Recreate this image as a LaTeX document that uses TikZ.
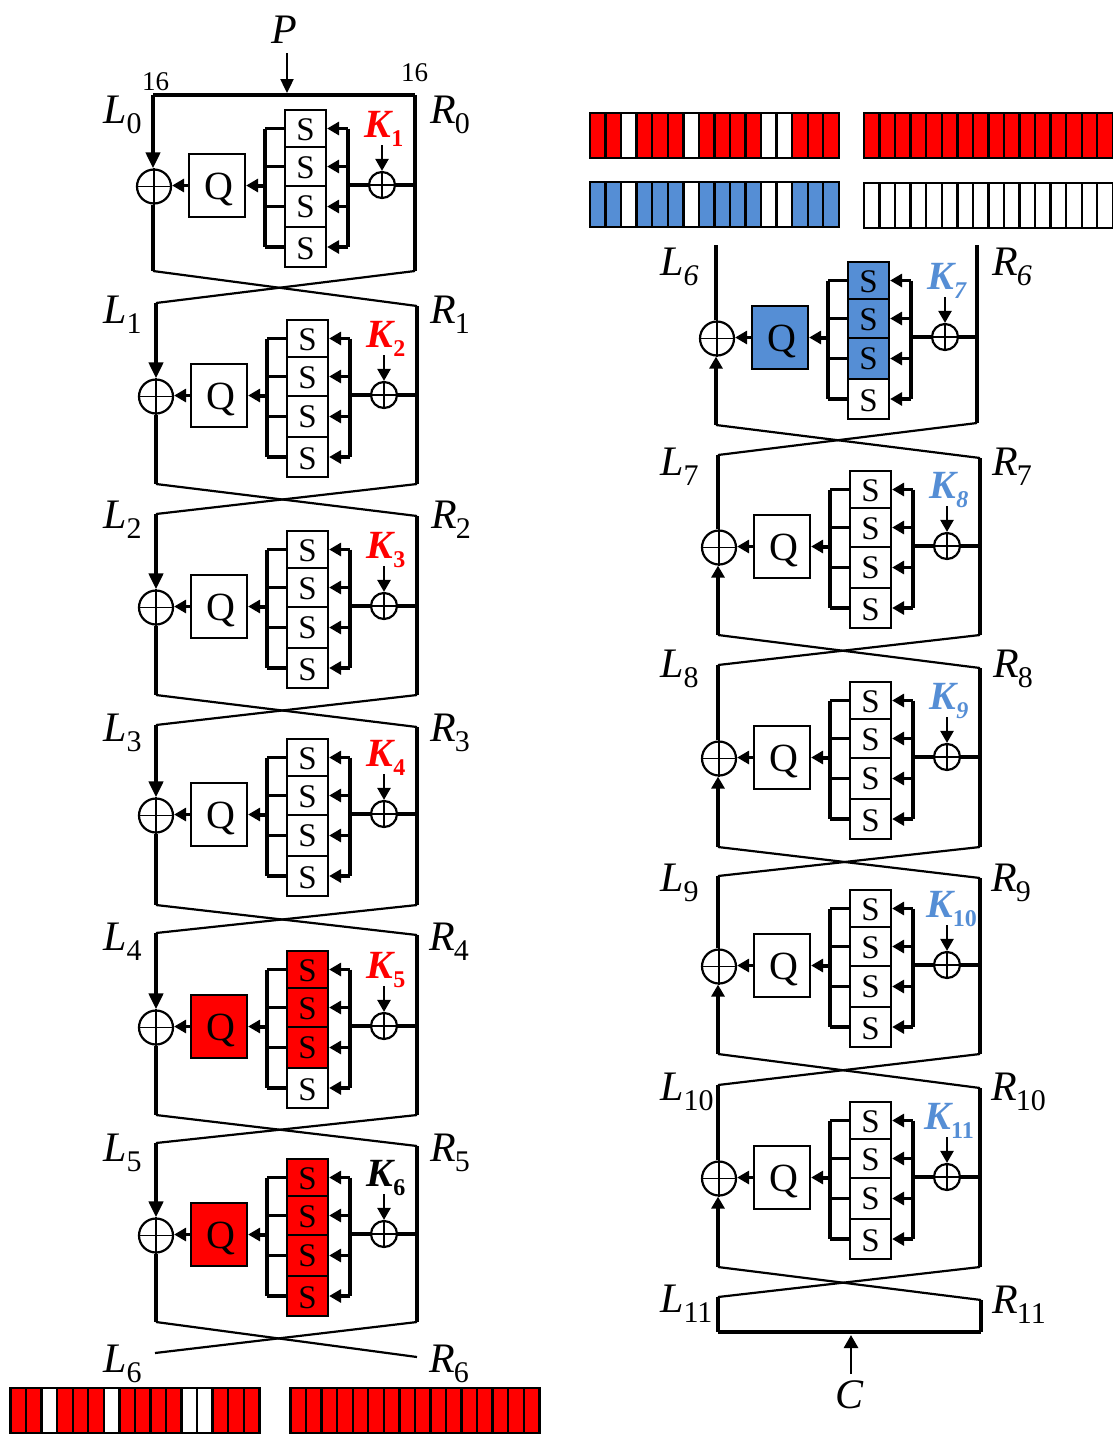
\documentclass[tikz,border=0pt]{standalone}
\usepackage{fontspec}
\setmainfont{Liberation Serif}
\usetikzlibrary{arrows.meta}
\definecolor{kblue}{HTML}{558ED5}
\tikzset{
 x=1pt,y=-1pt,
 tipped/.style={-{Triangle[length=12pt,width=13pt]}},
 bigtip/.style={-{Triangle[length=16pt,width=14pt]}},
 wire/.style={line width=3.3pt,line cap=butt},
 fatwire/.style={line width=4pt,line cap=butt},
 bus/.style={line width=3.3pt,line cap=square},
 cross/.style={line width=2.2pt},
 box/.style={draw=black,line width=2.2pt,inner sep=0pt,rectangle,text=black},
 qbox/.style={box,minimum width=56pt,minimum height=63pt,text depth=0pt,text height=28pt,font=\fontsize{40}{40}\selectfont},
 sbox/.style={box,minimum width=41pt,text depth=0pt,font=\fontsize{33}{33}\selectfont},
 xorbig/.style={circle,draw=black,line width=2.2pt,inner sep=0pt,minimum size=34pt},
 xorsmall/.style={circle,draw=black,line width=2.2pt,inner sep=0pt,minimum size=26pt},
 lab/.style={anchor=base west,inner sep=0pt},
 cell/.style={draw=black,line width=2.4pt},
}
\newcommand{\nm}[2]{\fontsize{42}{42}\selectfont\textit{#1}\raisebox{-10pt}{\fontsize{30}{30}\selectfont #2}}
\newcommand{\nr}[2]{\fontsize{42}{42}\selectfont\textit{#1}\kern-1pt\raisebox{-10pt}{\fontsize{30}{30}\selectfont #2}}
\newcommand{\kk}[2]{\textcolor{#1}{\fontsize{40}{40}\selectfont\textbf{\textit{K}}\kern-2pt\raisebox{-9pt}{\fontsize{24}{24}\selectfont #2}}}
% #1 id, #2 dx, #3 dy, #4 Q fill, #5-#8 S fills, #9 key label
\newcommand{\rnd}[9]{%
\begin{scope}[shift={(#2,#3)}]
 \node[xorbig] (#1-x) at (154,186.5) {};
 \node[qbox,fill=#4] (#1-q) at (217,185.5) {\hspace*{4pt}Q};
 \node[sbox,fill=#5,minimum height=37pt,text height=24.5pt] (#1-s1) at (305.5,128.5) {S};
 \node[sbox,fill=#6,minimum height=39pt,text height=23pt] (#1-s2) at (305.5,166.5) {S};
 \node[sbox,fill=#7,minimum height=41pt,text height=21pt] (#1-s3) at (305.5,206.5) {S};
 \node[sbox,fill=#8,minimum height=40pt,text height=25pt] (#1-s4) at (305.5,247) {S};
 \node[xorsmall] (#1-k) at (382,185) {};
 \node[inner sep=0pt,text height=26pt,text depth=8pt] (#1-kl) at (384,128) {#9};
 \coordinate (#1-kt) at (382,145);
 \coordinate (#1-lb) at (265,186);
 \coordinate (#1-rb) at (348,185);
\end{scope}
 \draw[line width=2.6pt] (#1-x.north) -- (#1-x.south);
 \draw[line width=1.8pt] (#1-x.west) -- (#1-x.east);
 \draw[line width=1.8pt] (#1-k.north) -- (#1-k.south);
 \draw[line width=1.8pt] (#1-k.west) -- (#1-k.east);
 \draw[wire,tipped] (#1-q.west) -- (#1-x.east |- #1-q.west);
 \draw[fatwire,tipped] (#1-lb |- #1-q.east) -- (#1-q.east);
 \draw[bus] (#1-lb |- #1-s1.west) -- (#1-lb |- #1-s4.west);
 \draw[bus] (#1-rb |- #1-s1.east) -- (#1-rb |- #1-s4.east);
 \foreach \s in {s1,s2,s3,s4}{
  \draw[wire] (#1-lb |- #1-\s.west) -- (#1-\s.west);
  \draw[wire,tipped] (#1-rb |- #1-\s.east) -- (#1-\s.east);
 }
 \draw[fatwire] (#1-k.west) -- (#1-rb);
 \draw[line width=2.4pt,tipped] (#1-kt) -- (#1-k.north);
}
% #1 id, #2 xL, #3 xR, #4 top L, #5 top R, #6 bottom L, #7 bottom R, #8 down/up
\newcommand{\wires}[8]{%
 \coordinate (#1-tl) at (#2,#4);
 \coordinate (#1-tr) at (#3,#5);
 \coordinate (#1-bl) at (#2,#6);
 \coordinate (#1-br) at (#3,#7);
 \ifnum#8=1
  \draw[fatwire,bigtip] (#1-tl) -- (#1-tl |- #1-x.north);
  \draw[wire] (#1-bl |- #1-x.south) -- (#1-bl);
 \else
  \draw[wire] (#1-tl) -- (#1-tl |- #1-x.north);
  \draw[fatwire,tipped] (#1-bl) -- (#1-bl |- #1-x.south);
 \fi
 \draw[wire] (#1-tr) -- (#1-br);
 \draw[wire] (#1-k.east) -- (#1-k.east -| #1-tr);
}
% #1 x, #2 y top, #3 fill, #4 list of white cells
\newcommand{\cellbar}[4]{%
 \foreach \i in {1,...,16}{
  \def\thefill{#3}
  \foreach \w in {#4}{\ifnum\w=\i\global\let\cellwhite\relax\fi}
  \ifx\cellwhite\relax\def\thefill{white}\fi
  \global\let\cellwhite\undefined
  \draw[cell,fill=\thefill] ({#1+(\i-1)*15.55},#2) rectangle ({#1+\i*15.55},#2+45);
 }
}
\begin{document}
\begin{tikzpicture}
\useasboundingbox (0,0) rectangle (1113,1438);
\fill[white] (0,0) rectangle (1113,1438);
% left column
\rnd{a}{0}{0}{white}{white}{white}{white}{white}{\kk{red}{\textbf{1}}}
\rnd{b}{2}{210}{white}{white}{white}{white}{white}{\kk{red}{\textbf{2}}}
\rnd{c}{2}{421}{white}{white}{white}{white}{white}{\kk{red}{\textbf{3}}}
\rnd{d}{2}{629}{white}{white}{white}{white}{white}{\kk{red}{\textbf{4}}}
\rnd{e}{2}{841}{red}{red}{red}{red}{white}{\kk{red}{\textbf{5}}}
\rnd{f}{2}{1049}{red}{red}{red}{red}{red}{\kk{black}{\textbf{6}}}
\wires{a}{153}{415}{95}{95}{271}{271}{1}
\wires{b}{156}{417}{303}{306}{484}{484}{1}
\wires{c}{156}{417}{514}{516}{695}{695}{1}
\wires{d}{156}{417}{725}{727}{905}{905}{1}
\wires{e}{156}{417}{933}{935}{1115}{1115}{1}
\wires{f}{156}{417}{1143}{1146}{1322}{1322}{1}
% right column
\rnd{g}{563}{152}{kblue}{kblue}{kblue}{kblue}{white}{\kk{kblue}{\textbf{\textit{7}}}}
\rnd{h}{565}{361}{white}{white}{white}{white}{white}{\kk{kblue}{\textbf{\textit{8}}}}
\rnd{i}{565}{572}{white}{white}{white}{white}{white}{\kk{kblue}{\textbf{\textit{9}}}}
\rnd{j}{565}{780}{white}{white}{white}{white}{white}{\hspace*{5pt}\kk{kblue}{\textbf{10}}}
\rnd{m}{565}{992}{white}{white}{white}{white}{white}{\kk{kblue}{\textbf{11}}}
\wires{g}{716}{977}{245}{245}{425}{423}{0}
\wires{h}{718}{980}{455}{458}{635}{635}{0}
\wires{i}{718}{980}{665}{668}{847}{847}{0}
\wires{j}{718}{980}{876}{878}{1054}{1054}{0}
\wires{m}{718}{980}{1085}{1088}{1267}{1267}{0}
% top and bottom bars of the blocks
\draw[fatwire,line cap=square] (a-tl) -- (a-tr);
\coordinate (endLt) at (155,1353);
\coordinate (endRt) at (417,1357);
\coordinate (n-tl) at (718,1297);
\coordinate (n-tr) at (981,1300);
\coordinate (n-bl) at (718,1332);
\coordinate (n-br) at (981,1332);
\draw[wire] (n-tl) -- (n-bl);
\draw[wire] (n-tr) -- (n-br);
\draw[fatwire,line cap=square] (n-bl) -- (n-br);
% crossings
\foreach \u/\v in {a/b,b/c,c/d,d/e,e/f,g/h,h/i,i/j,j/m,m/n}{
 \draw[cross] (\u-bl) -- (\v-tr);
 \draw[cross] (\u-br) -- (\v-tl);
}
\draw[cross] (f-bl) -- (endRt);
\draw[cross] (f-br) -- (endLt);
% P and C
\node[lab] (P) at (271,43) {\fontsize{42}{42}\selectfont\textit{P}};
\coordinate (Pt) at (287,53);
\coordinate (Pe) at (287,93);
\draw[line width=2.4pt,-{Triangle[length=14pt,width=13pt]}] (Pt) -- (Pe);
\node[lab] (C) at (835,1408) {\fontsize{42}{42}\selectfont\textit{C}};
\coordinate (Ct) at (851,1374);
\coordinate (Ce) at (851,1335);
\draw[line width=2.8pt,-{Triangle[length=13pt,width=14pt]}] (Ct) -- (Ce);
\node[lab] (n16a) at (142,90) {\fontsize{27}{27}\selectfont 16};
\node[lab] (n16b) at (401,81) {\fontsize{27}{27}\selectfont 16};
% labels
\node[lab] (L0) at (103,123) {\nm{L}{0}}; \node[lab] (R0) at (430,123) {\nr{R}{0}};
\node[lab] (L1) at (103,323) {\nm{L}{1}}; \node[lab] (R1) at (430,323) {\nr{R}{1}};
\node[lab] (L2) at (103,528) {\nm{L}{2}}; \node[lab] (R2) at (431,528) {\nr{R}{2}};
\node[lab] (L3) at (103,741) {\nm{L}{3}}; \node[lab] (R3) at (430,741) {\nr{R}{3}};
\node[lab] (L4) at (103,950) {\nm{L}{4}}; \node[lab] (R4) at (429,950) {\nr{R}{4}};
\node[lab] (L5) at (103,1161) {\nm{L}{5}}; \node[lab] (R5) at (430,1161) {\nr{R}{5}};
\node[lab] (L6) at (103,1372) {\nm{L}{6}}; \node[lab] (R6) at (429,1372) {\nr{R}{6}};
\node[lab] (Lg) at (660,275) {\nm{L}{\textit{6}}}; \node[lab] (Rg) at (992,275) {\nr{R}{\textit{6}}};
\node[lab] (L7) at (660,475) {\nm{L}{7}}; \node[lab] (R7) at (992,475) {\nr{R}{7}};
\node[lab] (L8) at (660,677) {\nm{L}{8}}; \node[lab] (R8) at (993,677) {\nr{R}{8}};
\node[lab] (L9) at (660,891) {\nm{L}{9}}; \node[lab] (R9) at (991,891) {\nr{R}{9}};
\node[lab] (L10) at (660,1100) {\nm{L}{10}}; \node[lab] (R10) at (991,1100) {\nr{R}{10}};
\node[lab] (L11) at (660,1312) {\nm{L}{11}}; \node[lab] (R11) at (992,1313) {\nr{R}{11}};
% cell bars
\cellbar{10.5}{1388}{red}{3,7,12,13}
\cellbar{290.5}{1388}{red}{0}
\cellbar{590}{113}{red}{3,7,12,13}
\cellbar{864}{113}{red}{0}
\cellbar{590}{182}{kblue}{3,7,12,13}
\cellbar{864}{183}{white}{0}
\end{tikzpicture}
\end{document}
